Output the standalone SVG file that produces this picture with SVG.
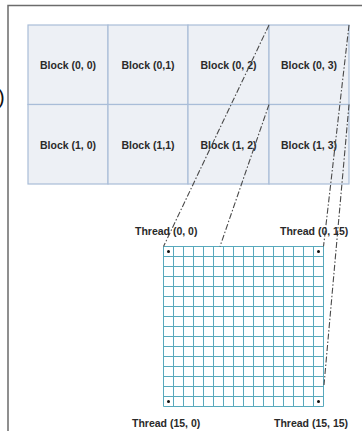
<svg xmlns="http://www.w3.org/2000/svg" width="362" height="431" viewBox="0 0 362 431">
  <style>
    .frame { stroke: #6b6b6b; stroke-width: 1.5; fill: none; }
    .block rect { fill: #edf0f5; stroke: #a9bdd8; stroke-width: 1.2; }
    .lbl { font-family: "Liberation Sans", Arial, sans-serif; font-weight: bold; font-size: 10.5px; fill: #2a2a2a; text-anchor: middle; }
    .tlbl { font-family: "Liberation Sans", Arial, sans-serif; font-weight: bold; font-size: 10.5px; fill: #2a2a2a; }
    .grid { stroke: #58a8bc; stroke-width: 1; fill: none; }
    .conn line { stroke: #4a4a4a; stroke-width: 1.1; stroke-dasharray: 6 2 1.5 2; fill: none; }
    .dot { fill: #111; }
  </style>
  <defs>
    <pattern id="cells" x="163.5" y="246.5" width="10" height="10" patternUnits="userSpaceOnUse">
      <path d="M0 0.5 H10 M0.5 0 V10" stroke="#58a8bc" stroke-width="1" fill="none" transform="translate(-0.5 -0.5)"/>
    </pattern>
  </defs>

  <rect width="362" height="431" fill="#ffffff"/>

  <!-- outer frame (partial) -->
  <path class="frame" d="M8 431 V5.5 H362"/>
  <text x="-2" y="104" font-family="Liberation Sans, Arial, sans-serif" font-size="20" fill="#111">)</text>

  <!-- grid of blocks -->
  <g id="block-0-0" class="block"><rect x="28" y="25" width="80" height="79.5"/><text class="lbl" x="68" y="68.5">Block (0, 0)</text></g>
  <g id="block-0-1" class="block"><rect x="108" y="25" width="80" height="79.5"/><text class="lbl" x="148" y="68.5">Block (0,1)</text></g>
  <g id="block-0-2" class="block"><rect x="188" y="25" width="81" height="79.5"/><text class="lbl" x="228.5" y="68.5">Block (0, 2)</text></g>
  <g id="block-0-3" class="block"><rect x="269" y="25" width="80" height="79.5"/><text class="lbl" x="309" y="68.5">Block (0, 3)</text></g>
  <g id="block-1-0" class="block"><rect x="28" y="104.5" width="80" height="79.5"/><text class="lbl" x="68" y="148.5">Block (1, 0)</text></g>
  <g id="block-1-1" class="block"><rect x="108" y="104.5" width="80" height="79.5"/><text class="lbl" x="148" y="148.5">Block (1,1)</text></g>
  <g id="block-1-2" class="block"><rect x="188" y="104.5" width="81" height="79.5"/><text class="lbl" x="228.5" y="148.5">Block (1, 2)</text></g>
  <g id="block-1-3" class="block"><rect x="269" y="104.5" width="80" height="79.5"/><text class="lbl" x="309" y="148.5">Block (1, 3)</text></g>

  <!-- threads inside one block: 16 x 16 cells of 10 px -->
  <g id="thread-grid">
    <path class="grid" d="M163.5 246.5 V406.5 M173.5 246.5 V406.5 M183.5 246.5 V406.5 M193.5 246.5 V406.5 M203.5 246.5 V406.5 M213.5 246.5 V406.5 M223.5 246.5 V406.5 M233.5 246.5 V406.5 M243.5 246.5 V406.5 M253.5 246.5 V406.5 M263.5 246.5 V406.5 M273.5 246.5 V406.5 M283.5 246.5 V406.5 M293.5 246.5 V406.5 M303.5 246.5 V406.5 M313.5 246.5 V406.5 M323.5 246.5 V406.5"/>
    <path class="grid" d="M163.5 246.5 H323.5 M163.5 256.5 H323.5 M163.5 266.5 H323.5 M163.5 276.5 H323.5 M163.5 286.5 H323.5 M163.5 296.5 H323.5 M163.5 306.5 H323.5 M163.5 316.5 H323.5 M163.5 326.5 H323.5 M163.5 336.5 H323.5 M163.5 346.5 H323.5 M163.5 356.5 H323.5 M163.5 366.5 H323.5 M163.5 376.5 H323.5 M163.5 386.5 H323.5 M163.5 396.5 H323.5 M163.5 406.5 H323.5"/>
    <circle class="dot" cx="168.5" cy="251.5" r="1.5"/>
    <circle class="dot" cx="318.5" cy="251.5" r="1.5"/>
    <circle class="dot" cx="168.5" cy="401.5" r="1.5"/>
    <circle class="dot" cx="318.5" cy="401.5" r="1.5"/>
  </g>

  <!-- connectors from block edges to thread grid -->
  <g id="connectors" class="conn">
    <line x1="269" y1="25" x2="163.5" y2="246.5"/>
    <line x1="269" y1="104.5" x2="220" y2="246.5"/>
    <line x1="349" y1="25" x2="323.5" y2="246.5"/>
    <line x1="349" y1="104.5" x2="324" y2="385"/>
  </g>

  <g id="thread-0-0"><text class="tlbl" x="135" y="235">Thread (0, 0)</text></g>
  <g id="thread-0-15"><text class="tlbl" x="280" y="235">Thread (0, 15)</text></g>
  <g id="thread-15-0"><text class="tlbl" x="132" y="427">Thread (15, 0)</text></g>
  <g id="thread-15-15"><text class="tlbl" x="274" y="427">Thread (15, 15)</text></g>
</svg>
